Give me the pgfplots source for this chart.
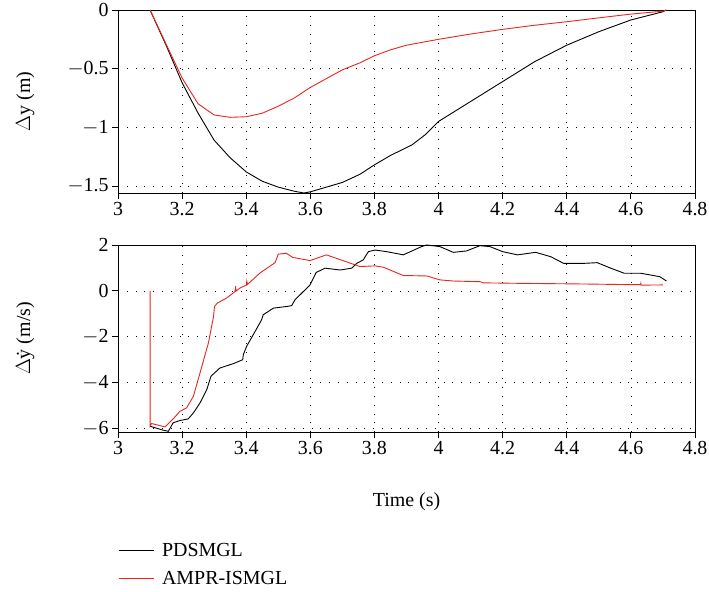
\documentclass[border=0pt]{standalone}
\usepackage{pgfplots}
\pgfplotsset{compat=1.18}
\usepackage{fontspec}
\setmainfont{Liberation Serif}
\definecolor{myred}{RGB}{232,38,30}
\begin{document}
\begin{tikzpicture}
\useasboundingbox (0bp,0bp) rectangle (709bp,592bp);
\pgfplotsset{
  every axis/.style={
    scale only axis, width=577bp,
    xmin=3, xmax=4.8,
    xtick={3,3.2,...,4.8},
    xticklabels={3,3.2,3.4,3.6,3.8,4,4.2,4.4,4.6,4.8},
    tick align=outside, major tick length=6bp,
    xtick pos=bottom, ytick pos=left,
    grid=major,
    major grid style={black, line width=0.6bp, dash pattern=on 0.8bp off 8bp},
    axis line style={line width=0.8bp},
    tick style={line width=0.8bp, black},
    /pgf/number format/assume math mode=true,
    tick label style={font=\fontsize{20}{22}\selectfont},
    label style={font=\fontsize{20}{22}\selectfont},
    every axis plot/.append style={line width=0.9bp},
    ylabel style={at={(axis description cs:-0.161,0.5)}, anchor=center},
  }
}
\begin{axis}[at={(118bp,399bp)}, anchor=south west, height=183bp,
  ymin=-1.56, ymax=0,
  ytick={-1.5,-1,-0.5,0},
  yticklabels={$-$1.5,$-$1,$-$0.5,0},
  ylabel={$\Delta$y (m)},
]
\addplot[black] coordinates {
(3.1,0) (3.15,-0.3) (3.2,-0.62) (3.25,-0.88) (3.3,-1.11) (3.35,-1.26) (3.4,-1.38) (3.45,-1.46) (3.5,-1.51) (3.55,-1.545) (3.58,-1.56) (3.6,-1.55) (3.65,-1.51) (3.7,-1.47) (3.755,-1.40) (3.8,-1.32) (3.85,-1.24) (3.917,-1.15) (3.96,-1.06) (4.0,-0.95) (4.1,-0.78) (4.2,-0.61) (4.3,-0.44) (4.4,-0.30) (4.5,-0.185) (4.6,-0.085) (4.7,-0.015) (4.71,0)
};
\addplot[myred] coordinates {
(3.1,0) (3.15,-0.29) (3.2,-0.58) (3.25,-0.80) (3.3,-0.895) (3.35,-0.915) (3.4,-0.91) (3.45,-0.88) (3.5,-0.82) (3.55,-0.75) (3.6,-0.66) (3.65,-0.585) (3.7,-0.51) (3.755,-0.45) (3.8,-0.39) (3.85,-0.34) (3.9,-0.30) (4.0,-0.25) (4.1,-0.205) (4.2,-0.165) (4.3,-0.13) (4.4,-0.10) (4.5,-0.067) (4.6,-0.035) (4.7,-0.01) (4.71,0)
};
\end{axis}
\begin{axis}[at={(118bp,160bp)}, anchor=south west, height=187bp,
  ymin=-6.15, ymax=2,
  ytick={-6,-4,-2,0,2},
  yticklabels={$-$6,$-$4,$-$2,0,2},
  ylabel={$\Delta$\.{y} (m/s)},
  xlabel={Time (s)},
  xlabel style={at={(axis description cs:0.5,-0.374)}, anchor=center},
  legend style={draw=none, fill=none, at={(0.0,-0.583)}, anchor=north west,
    inner sep=0pt, font=\fontsize{20}{22}\selectfont, row sep=9bp,
    legend cell align=left,
    /tikz/every odd column/.append style={column sep=6bp}},
  legend image code/.code={\draw[#1] (0bp,0bp) -- (35bp,0bp);},
]
\addplot[black] coordinates {
(3.1,-5.9) (3.141,-6.07) (3.157,-6.12) (3.172,-5.75) (3.193,-5.65) (3.219,-5.58) (3.235,-5.32) (3.256,-4.88) (3.277,-4.30) (3.29,-3.72) (3.318,-3.36) (3.36,-3.17) (3.389,-3.0) (3.391,-2.78) (3.401,-2.42) (3.422,-1.91) (3.448,-1.26) (3.453,-1.04) (3.485,-0.75) (3.527,-0.68) (3.542,-0.64) (3.552,-0.39) (3.568,-0.17) (3.599,0.26) (3.618,0.80) (3.646,0.99) (3.693,0.91) (3.729,0.99) (3.745,1.2) (3.765,1.35) (3.781,1.71) (3.802,1.78) (3.838,1.71) (3.89,1.57) (3.947,1.93) (3.963,2.0) (4.004,1.93) (4.046,1.68) (4.087,1.74) (4.129,1.97) (4.16,1.93) (4.2,1.71) (4.246,1.57) (4.303,1.68) (4.35,1.49) (4.39,1.2) (4.454,1.2) (4.495,1.23) (4.537,0.99) (4.579,0.77) (4.63,0.77) (4.69,0.62) (4.711,0.43)
};
\addlegendentry{PDSMGL}
\addplot[myred] coordinates {
(3.1,0) (3.1,-5.9) (3.105,-5.78) (3.147,-5.93) (3.172,-5.58) (3.193,-5.25) (3.214,-5.10) (3.235,-4.6) (3.256,-3.57) (3.282,-2.27) (3.298,-1.12) (3.301,-0.68) (3.31,-0.53) (3.339,-0.31) (3.365,-0.03) (3.367,0.2) (3.368,-0.01) (3.38,0.12) (3.401,0.26) (3.402,0.42) (3.404,0.28) (3.443,0.78) (3.49,1.23) (3.50,1.6) (3.525,1.64) (3.545,1.46) (3.599,1.32) (3.65,1.57) (3.712,1.27) (3.755,1.06) (3.802,1.09) (3.828,1.03) (3.89,0.67) (3.963,0.65) (4.004,0.48) (4.046,0.43) (4.13,0.4) (4.14,0.35) (4.246,0.33) (4.454,0.30) (4.61,0.27) (4.63,0.27) (4.631,0.33) (4.632,0.25) (4.70,0.26)
};
\addlegendentry{AMPR-ISMGL}
\end{axis}
\end{tikzpicture}
\end{document}
